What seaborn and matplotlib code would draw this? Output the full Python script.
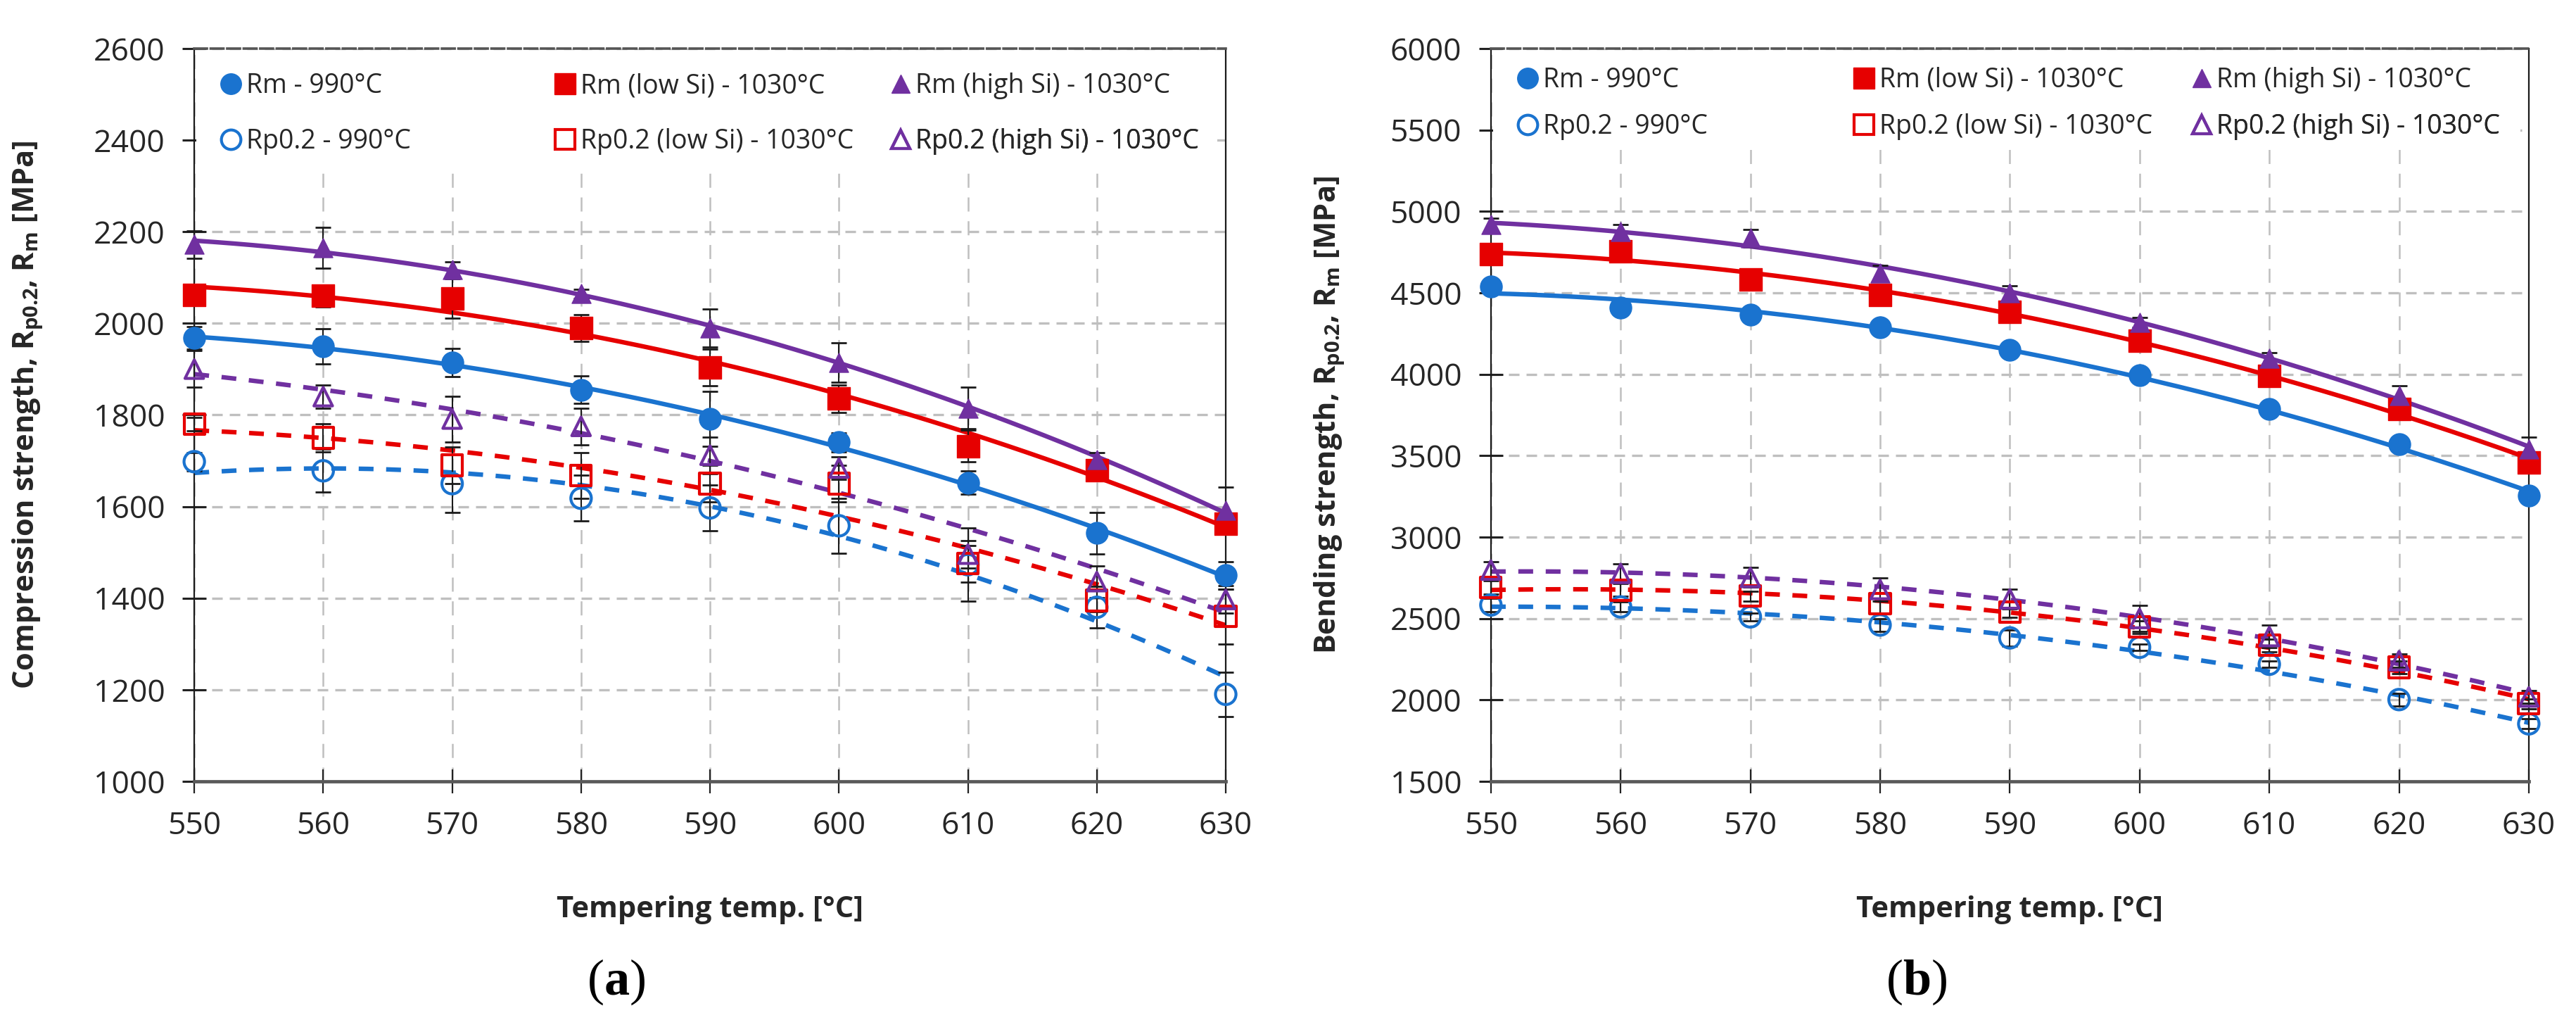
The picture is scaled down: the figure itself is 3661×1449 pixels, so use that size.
import numpy as np
import pandas as pd
import matplotlib
matplotlib.use("Agg")
import matplotlib.pyplot as plt
import seaborn as sns
from matplotlib.lines import Line2D
from matplotlib.patches import Rectangle
from matplotlib.offsetbox import TextArea, HPacker, AnnotationBbox

# ---------------- data ----------------
temps = [550, 560, 570, 580, 590, 600, 610, 620, 630]
series_names = ["Rm - 990°C", "Rm (low Si) - 1030°C", "Rm (high Si) - 1030°C",
                "Rp0.2 - 990°C", "Rp0.2 (low Si) - 1030°C", "Rp0.2 (high Si) - 1030°C"]

# (a) compression
comp_rm_990 = [1968, 1950, 1914, 1855, 1792, 1740, 1652, 1542, 1450]
comp_rm_low = [2062, 2060, 2055, 1990, 1904, 1836, 1732, 1680, 1562]
comp_rm_high = [2172, 2165, 2118, 2065, 1990, 1915, 1815, 1703, 1592]
comp_rp_990 = [1698, 1678, 1650, 1618, 1597, 1558, 1473, 1380, 1190]
comp_rp_low = [1780, 1750, 1690, 1668, 1650, 1650, 1475, 1395, 1360]
comp_rp_high = [1900, 1840, 1791, 1775, 1712, 1684, 1496, 1436, 1397]

comp_rm_990_err = [25, 38, 31, 30, 60, 20, 25, 45, 30]
comp_rm_low_err = [10, 24, 43, 29, 40, 30, 35, 20, 20]
comp_rm_high_err = [30, 45, 17, 10, 41, 43, 45, 15, 50]
comp_rp_990_err = [20, 47, 63, 50, 50, 60, 80, 45, 48]
comp_rp_low_err = [15, 30, 40, 50, 40, 40, 40, 25, 60]
comp_rp_high_err = [40, 25, 50, 40, 40, 25, 30, 35, 30]

# (b) bending
bend_rm_990 = [4539, 4411, 4367, 4290, 4151, 3994, 3788, 3570, 3255]
bend_rm_low = [4737, 4753, 4581, 4488, 4382, 4207, 3990, 3788, 3458]
bend_rm_high = [4920, 4875, 4835, 4620, 4500, 4320, 4097, 3869, 3542]
bend_rp_990 = [2583, 2571, 2510, 2460, 2381, 2323, 2219, 2002, 1853]
bend_rp_low = [2691, 2675, 2637, 2592, 2538, 2447, 2335, 2200, 1977]
bend_rp_high = [2797, 2777, 2752, 2678, 2620, 2500, 2389, 2241, 2018]

bend_rm_990_err = [40, 30, 25, 20, 25, 20, 25, 20, 30]
bend_rm_low_err = [35, 50, 30, 40, 30, 35, 30, 25, 40]
bend_rm_high_err = [40, 45, 55, 50, 45, 30, 35, 60, 70]
bend_rp_990_err = [40, 30, 25, 40, 50, 20, 20, 40, 30]
bend_rp_low_err = [40, 40, 30, 60, 30, 40, 40, 40, 30]
bend_rp_high_err = [50, 60, 60, 70, 60, 80, 70, 40, 40]

comp_ticks = [1000, 1200, 1400, 1600, 1800, 2000, 2200, 2400, 2600]
bend_ticks = [1500, 2000, 2500, 3000, 3500, 4000, 4500, 5000, 5500, 6000]

# ---------------- style ----------------
sns.set_theme(style="white")
plt.rcParams["font.family"] = ["Open Sans", "DejaVu Sans"]
plt.rcParams["mathtext.fontset"] = "custom"
plt.rcParams["mathtext.rm"] = "Open Sans"
plt.rcParams["mathtext.bf"] = "Open Sans:bold"

BLUE = "#1A73CF"
RED = "#E60000"
PURPLE = "#7030A0"
DASH = (0, (3.3, 2.8))
styles = {
    series_names[0]: dict(color=BLUE, marker="o", filled=True, ls="-", s=125),
    series_names[1]: dict(color=RED, marker="s", filled=True, ls="-", s=130),
    series_names[2]: dict(color=PURPLE, marker="^", filled=True, ls="-", s=95),
    series_names[3]: dict(color=BLUE, marker="o", filled=False, ls=DASH, s=110),
    series_names[4]: dict(color=RED, marker="s", filled=False, ls=DASH, s=110),
    series_names[5]: dict(color=PURPLE, marker="^", filled=False, ls=DASH, s=90),
}


def make_df(vals, errs):
    rows = []
    for name, v, e in zip(series_names, vals, errs):
        for t, vv, ee in zip(temps, v, e):
            rows.append(dict(series=name, temp=t, value=vv, err=ee))
    return pd.DataFrame(rows)


df_comp = make_df([comp_rm_990, comp_rm_low, comp_rm_high, comp_rp_990, comp_rp_low, comp_rp_high],
                  [comp_rm_990_err, comp_rm_low_err, comp_rm_high_err,
                   comp_rp_990_err, comp_rp_low_err, comp_rp_high_err])
df_bend = make_df([bend_rm_990, bend_rm_low, bend_rm_high, bend_rp_990, bend_rp_low, bend_rp_high],
                  [bend_rm_990_err, bend_rm_low_err, bend_rm_high_err,
                   bend_rp_990_err, bend_rp_low_err, bend_rp_high_err])

fig = plt.figure(figsize=(18.31, 7.245), dpi=200)
ax1 = fig.add_axes([0.0754, 0.234, 0.4003, 0.7184])
ax2 = fig.add_axes([0.5786, 0.234, 0.4028, 0.7184])


def draw_panel(ax, df, ticks, ylabel, row_y, white_bottom):
    ax.set_axisbelow(True)
    for name in series_names:
        st = styles[name]
        sub = df[df["series"] == name]
        # polynomial (2nd order) trendline fitted to the measured points
        coef = np.polyfit(sub["temp"], sub["value"], 2)
        xf = np.linspace(temps[0], temps[-1], 161)
        fit = pd.DataFrame({"temp": xf, "value": np.polyval(coef, xf)})
        sns.lineplot(data=fit, x="temp", y="value", ax=ax, color=st["color"],
                     linewidth=2.3, linestyle=st["ls"], zorder=2)
        eb = ax.errorbar(sub["temp"], sub["value"], yerr=sub["err"], fmt="none",
                         ecolor="#1a1a1a", elinewidth=0.75, capsize=4, capthick=1.0, zorder=3)
        for art in eb.get_children():
            art.set_clip_on(False)
        if st["filled"]:
            sns.scatterplot(data=sub, x="temp", y="value", ax=ax, marker=st["marker"],
                            s=st["s"], color=st["color"], edgecolor=st["color"],
                            linewidth=0.5, zorder=4, clip_on=False, legend=False)
        else:
            sns.scatterplot(data=sub, x="temp", y="value", ax=ax, marker=st["marker"],
                            s=st["s"], color=st["color"], facecolors="none",
                            edgecolor=st["color"], linewidth=1.5, zorder=4,
                            clip_on=False, legend=False)

    ax.set_xlim(temps[0], temps[-1])
    ax.set_ylim(ticks[0], ticks[-1])
    ax.set_xticks(temps)
    ax.set_yticks(ticks)
    ax.yaxis.grid(True, color="#BFBFBF", linewidth=1.2, linestyle=(0, (4.5, 3.0)))
    ax.xaxis.grid(True, color="#BFBFBF", linewidth=0.9, linestyle=(0, (8, 5.5)))

    # white area behind the legend (hides grid lines there)
    ax.add_patch(Rectangle((0.002, white_bottom), 0.99, 0.997 - white_bottom,
                           transform=ax.transAxes, facecolor="white",
                           edgecolor="none", zorder=1))

    for side in ["left", "right"]:
        ax.spines[side].set_color("#1a1a1a")
        ax.spines[side].set_linewidth(0.8)
    ax.spines["bottom"].set_color("#595959")
    ax.spines["bottom"].set_linewidth(1.7)
    ax.spines["top"].set_color("#555555")
    ax.spines["top"].set_linewidth(1.3)
    ax.spines["top"].set_linestyle((0, (5, 1.5)))

    ax.tick_params(axis="y", direction="inout", length=12, width=1.1, color="#222222",
                   labelsize=16, pad=9, left=True)
    ax.tick_params(axis="x", direction="inout", length=12, width=0.8, color="#222222",
                   labelsize=16, pad=9, bottom=True)

    ax.set_xlabel("Tempering temp. [°C]", fontsize=15, fontweight="bold")
    ax.set_ylabel(ylabel, fontsize=15, fontweight="bold")
    ax.xaxis.set_label_coords(0.5, -0.156)

    # legend: three columns, two rows, one legend box per entry
    fs = 13.5
    xs = [0.026, 0.350, 0.675]
    for ci, x0 in enumerate(xs):
        for ri, name in enumerate([series_names[ci], series_names[ci + 3]]):
            st = styles[name]
            h = Line2D([], [], linestyle="none", marker=st["marker"],
                       markersize=np.sqrt(st["s"]) * 0.95,
                       markerfacecolor=st["color"] if st["filled"] else "none",
                       markeredgecolor=st["color"],
                       markeredgewidth=1.5 if not st["filled"] else 0.5)
            leg = ax.legend([h], [name], loc="center left", bbox_to_anchor=(x0, row_y[ri]),
                            frameon=False, fontsize=fs, handlelength=0.75,
                            handletextpad=0.2, borderpad=0, borderaxespad=0)
            ax.add_artist(leg)


draw_panel(ax1, df_comp, comp_ticks,
           r"Compression strength, R$_{\mathbf{p0.2}}$, R$_{\mathbf{m}}$ [MPa]",
           [0.949, 0.873], 0.833)
ax1.yaxis.set_label_coords(-0.145, 0.5)
draw_panel(ax2, df_bend, bend_ticks,
           r"Bending strength, R$_{\mathbf{p0.2}}$, R$_{\mathbf{m}}$ [MPa]",
           [0.957, 0.893], 0.863)
ax2.yaxis.set_label_coords(-0.139, 0.5)


def caption(letter, x, y):
    tp = dict(family="Liberation Serif", fontsize=26, color="black")
    tb = dict(family="Liberation Serif", fontsize=26, color="black", fontweight="bold")
    box = HPacker(children=[TextArea("(", textprops=tp), TextArea(letter, textprops=tb),
                            TextArea(")", textprops=tp)], align="baseline", pad=0, sep=0)
    ab = AnnotationBbox(box, (x, y), xycoords="figure fraction", frameon=False,
                        box_alignment=(0.5, 0.5))
    fig.add_artist(ab)


caption("a", 0.2395, 0.037)
caption("b", 0.744, 0.037)

fig.savefig("out.png", dpi=200, facecolor="white")
